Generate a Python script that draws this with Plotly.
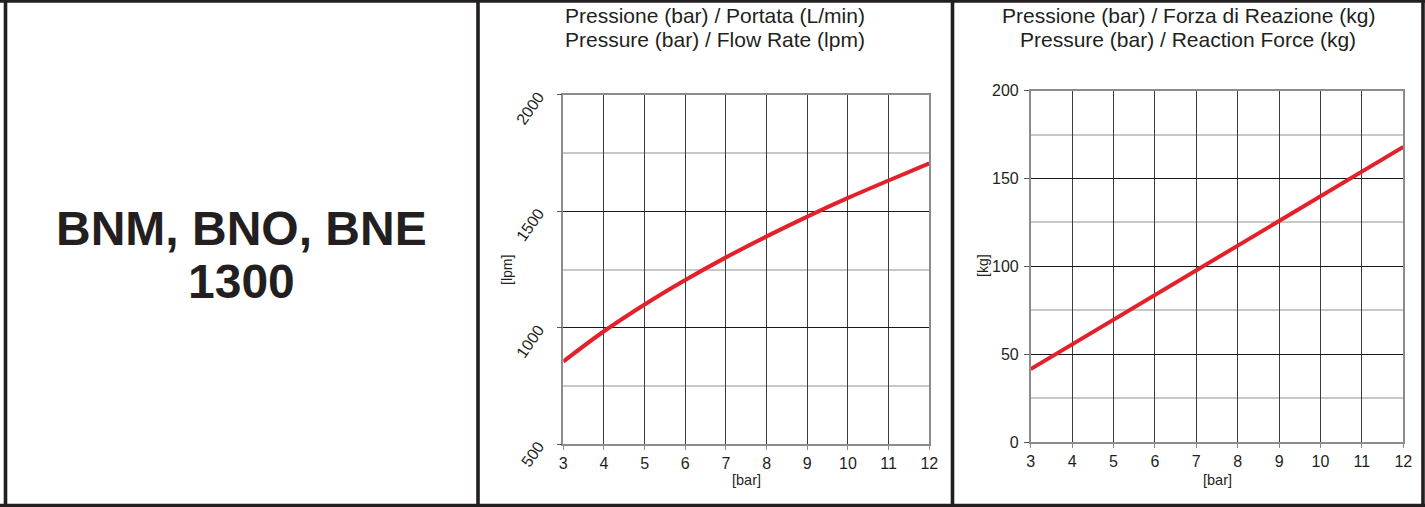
import plotly.graph_objects as go

# ---- data ----
pressure_bar = [3, 4, 5, 6, 7, 8, 9, 10, 11, 12]
flow_lpm = [855, 985, 1100, 1205, 1302, 1392, 1477, 1557, 1632, 1705]
force_kg = [41.5, 55.5, 69.8, 83.6, 97.7, 111.7, 125.8, 139.8, 153.9, 168.0]

x_ticks = [3, 4, 5, 6, 7, 8, 9, 10, 11, 12]
flow_ticks = [500, 1000, 1500, 2000]
force_ticks = [0, 50, 100, 150, 200]

title_flow = ["Pressione (bar) / Portata (L/min)", "Pressure (bar) / Flow Rate (lpm)"]
title_force = ["Pressione (bar) / Forza di Reazione (kg)", "Pressure (bar) / Reaction Force (kg)"]
model_lines = ["BNM, BNO, BNE", "1300"]

W, H = 1425, 507
FONT = "Liberation Sans, Arial, sans-serif"
TXT = "#231f20"
RED = "#e3212b"


def px(x):
    return x / W


def py(y):
    return 1 - y / H


fig = go.Figure()

fig.add_trace(go.Scatter(x=pressure_bar, y=flow_lpm, mode="lines",
                         line=dict(color=RED, width=4, shape="spline"),
                         xaxis="x", yaxis="y", showlegend=False, hoverinfo="skip"))
fig.add_trace(go.Scatter(x=pressure_bar, y=force_kg, mode="lines",
                         line=dict(color=RED, width=4),
                         xaxis="x2", yaxis="y2", showlegend=False, hoverinfo="skip"))

xcommon = dict(range=[3, 12], tickvals=x_ticks, showgrid=True, gridcolor="#3c3c3c", gridwidth=1.2,
               showline=True, linecolor="#8c8c8c", linewidth=1.5, mirror=True,
               ticks="outside", ticklen=4, tickcolor="#8c8c8c", tickwidth=1.2, automargin=False,
               tickfont=dict(family=FONT, size=16, color=TXT), zeroline=False, fixedrange=True)
ycommon = dict(showgrid=True, gridcolor="#1a1a1a", gridwidth=1,
               showline=True, linecolor="#8c8c8c", linewidth=1.5, mirror=True,
               ticks="outside", ticklen=5, tickcolor="#555555", tickwidth=1.2, automargin=False,
               tickfont=dict(family=FONT, size=16, color=TXT), zeroline=False, fixedrange=True)

fig.update_layout(
    width=W, height=H,
    margin=dict(l=0, r=0, t=0, b=0, pad=0, autoexpand=False),
    paper_bgcolor="white", plot_bgcolor="white",
    xaxis=dict(domain=[px(563.3), px(929.3)], anchor="y", **xcommon),
    yaxis=dict(domain=[py(444.3), py(94.7)], anchor="x", range=[500, 2000], tickvals=flow_ticks,
               tickangle=-55, ticklabelstandoff=15,
               minor=dict(tickvals=[750, 1250, 1750], showgrid=True, gridcolor="#c8c8c8", gridwidth=2),
               **ycommon),
    xaxis2=dict(domain=[px(1030.7), px(1403.3)], anchor="y2", **xcommon),
    yaxis2=dict(domain=[py(442), py(90.7)], anchor="x2", range=[0, 200], tickvals=force_ticks,
                ticklabelstandoff=2,
                minor=dict(tickvals=[25, 75, 125, 175], showgrid=True, gridcolor="#c8c8c8", gridwidth=2),
                **ycommon),
)

# panel borders
bc = "#231f20"
bw = 3.6
border_lines = [
    (5.5, 0, 5.5, H), (1423, 0, 1423, H), (0, 1, W, 1), (0, 505.5, W, 505.5),
    (478, 0, 478, H), (952.5, 0, 952.5, H),
]
for x0, y0, x1, y1 in border_lines:
    fig.add_shape(type="line", xref="paper", yref="paper",
                  x0=px(x0), y0=py(y0), x1=px(x1), y1=py(y1),
                  line=dict(color=bc, width=bw), layer="above")


def ann(text, x, y, size, bold=False, angle=0):
    fig.add_annotation(text=f"<b>{text}</b>" if bold else text, x=px(x), y=py(y),
                       xref="paper", yref="paper", xanchor="center", yanchor="middle",
                       showarrow=False, textangle=angle,
                       font=dict(family=FONT, size=size, color=TXT))


ann(title_flow[0], 715, 15, 21)
ann(title_flow[1], 715, 40, 21)
ann(title_force[0], 1188, 15, 21)
ann(title_force[1], 1188, 40, 21)
ann(model_lines[0], 241.5, 228, 48, bold=True)
ann(model_lines[1], 241.5, 281, 48, bold=True)
ann("[lpm]", 507, 270, 14, angle=-90)
ann("[kg]", 983, 266, 14, angle=-90)
ann("[bar]", 746, 480, 14.5)
ann("[bar]", 1217, 480, 14.5)

fig.write_html("out.html", config={"displayModeBar": False},
               post_script="document.body.style.margin='0';document.body.style.overflow='hidden';")
